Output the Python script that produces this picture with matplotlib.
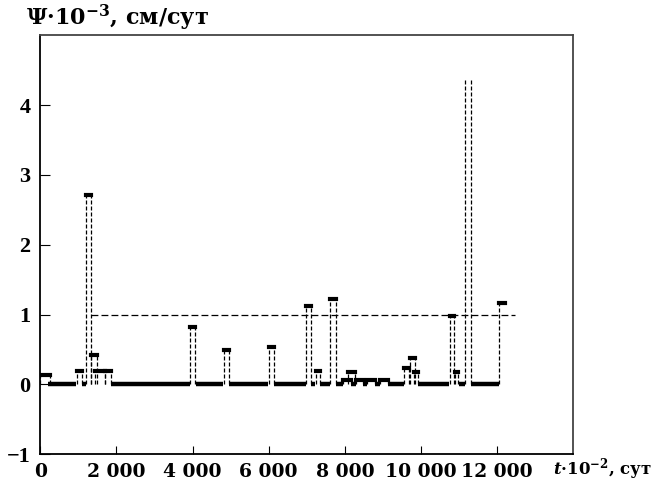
import matplotlib
matplotlib.use('Agg')
import matplotlib.pyplot as plt

# импульсы: начало, конец (t*10^-2, сут), уровень Psi*10^-3
pulse_start = [0, 960, 1200, 1340, 1440, 1700, 3935, 4820, 6000, 6990, 7230, 7620,
               7950, 8090, 8280, 8580, 8920, 9560, 9700, 9820, 10755, 10880, 11165, 12060]
pulse_end = [250, 1085, 1330, 1500, 1700, 1850, 4065, 4955, 6135, 7105, 7340, 7755,
             8150, 8260, 8480, 8790, 9130, 9680, 9840, 9920, 10870, 10980, 11300, 12200]
pulse_level = [0.14, 0.20, 2.72, 0.42, 0.20, 0.20, 0.83, 0.49, 0.54, 1.12, 0.19, 1.22,
               0.06, 0.18, 0.06, 0.06, 0.06, 0.23, 0.38, 0.18, 0.98, 0.18, 4.36, 1.16]

# участки нулевого уровня
base_start = [200, 1095, 1860, 4080, 4970, 6150, 7115, 7350, 7765, 8150, 8480, 8790, 9130, 9930, 10990, 11310]
base_end = [940, 1190, 3920, 4810, 5990, 6980, 7220, 7610, 7950, 8280, 8580, 8920, 9550, 10740, 11150, 12040]

ref_level = 1.0
ref_range = [1340, 12460]

x_ticks = [0, 2000, 4000, 6000, 8000, 10000, 12000]
x_labels = ['0', '2 000', '4 000', '6 000', '8 000', '10 000', '12 000']
y_ticks = [-1, 0, 1, 2, 3, 4]

plt.rcParams['font.family'] = ['DejaVu Serif']
plt.rcParams['mathtext.fontset'] = 'custom'
plt.rcParams['mathtext.rm'] = 'DejaVu Serif:bold'
plt.rcParams['mathtext.it'] = 'DejaVu Serif:italic:bold'
plt.rcParams['mathtext.bf'] = 'DejaVu Serif:bold'

fig = plt.figure(figsize=(6.57, 4.91), dpi=100)
ax = fig.add_axes([0.0613, 0.0747, 0.8113, 0.8534])

dash = (0, (3.2, 1.6))

for s, e in zip(base_start, base_end):
    ax.plot([s, e], [0, 0], color='black', lw=3.2, solid_capstyle='butt')

n = len(pulse_start)
for i, (s, e, lv) in enumerate(zip(pulse_start, pulse_end, pulse_level)):
    ax.plot([s, s], [0, lv], color='black', lw=0.9, linestyle=dash)
    if i < n - 1:
        ax.plot([e, e], [0, lv], color='black', lw=0.9, linestyle=dash)
    if lv < 4:
        ax.plot([s, e], [lv, lv], color='black', lw=3.0, solid_capstyle='projecting')

ax.plot(ref_range, [ref_level, ref_level], color='black', lw=0.9, linestyle=(0, (5.5, 2.5)))

ax.set_xlim(0, 14000)
ax.set_ylim(-1, 5)
ax.set_xticks(x_ticks)
ax.set_xticklabels(x_labels)
ax.set_yticks(y_ticks)
ax.tick_params(axis='x', direction='in', length=6, width=0.8, pad=6.5, labelsize=13.5)
ax.tick_params(axis='y', direction='in', length=7, width=0.8, pad=7, labelsize=16)
for lab in ax.get_xticklabels():
    lab.set_fontweight('bold')
for lab in ax.get_yticklabels():
    lab.set_fontweight('bold')
    lab.set_family('Liberation Serif')

ax.spines['left'].set_color('black')
ax.spines['bottom'].set_color('black')
ax.spines['top'].set_color('#444444')
ax.spines['right'].set_color('#444444')
for sp in ax.spines.values():
    sp.set_linewidth(1.3)

fig.text(26 / 657, 1 - 18 / 491, r'$\Psi$·10$^{-3}$, см/сут', fontsize=16,
         fontweight='bold', ha='left', va='center')
fig.text(553 / 657, 1 - 469 / 491, r'$t$·10$^{-2}$, сут', fontsize=12,
         fontweight='bold', ha='left', va='center')

fig.savefig('out.png', dpi=100)
